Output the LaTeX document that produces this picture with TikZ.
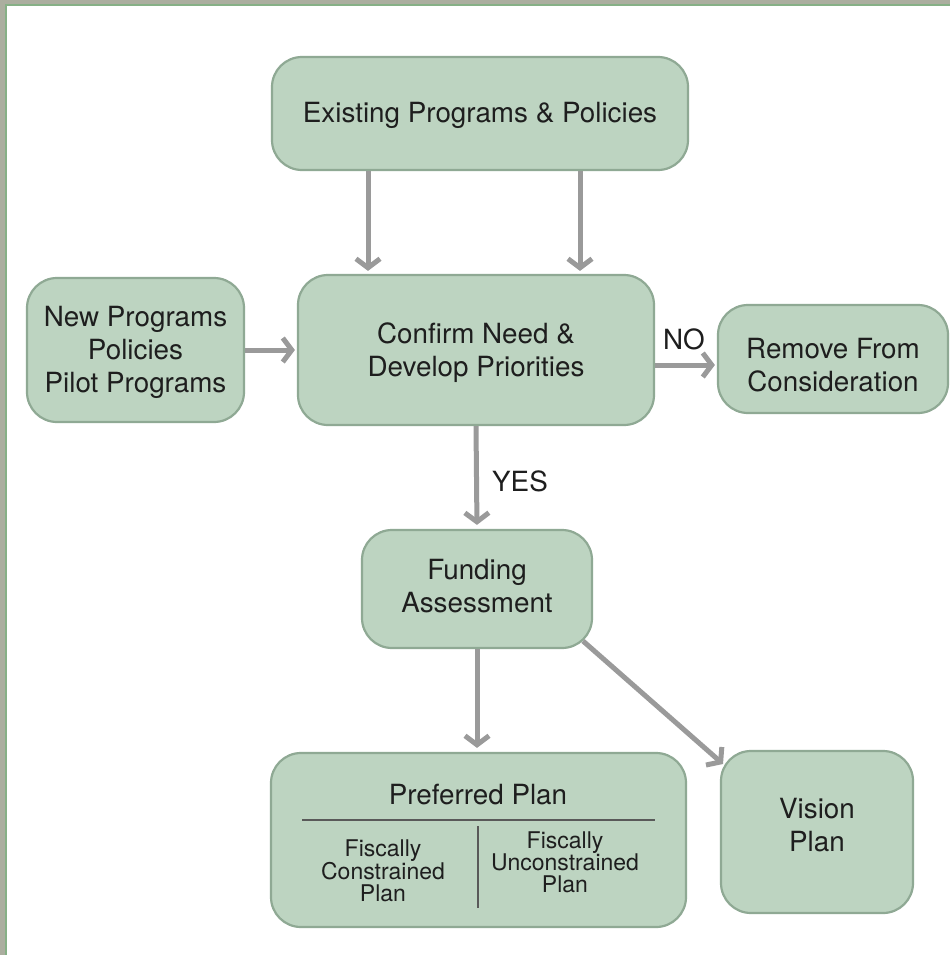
\documentclass[tikz,border=0pt]{standalone}
\usepackage{fontspec}
\setmainfont{TeX Gyre Heros}
\usetikzlibrary{arrows.meta}
\definecolor{boxfill}{HTML}{BDD4C1}
\definecolor{boxedge}{HTML}{8FA994}
\definecolor{arrgray}{HTML}{9A9A9A}
\definecolor{txt}{HTML}{1E1E1E}
\definecolor{framegray}{HTML}{ABAE9F}
\definecolor{framegreen}{HTML}{86B086}
\tikzset{
  box/.style={rectangle, rounded corners=30pt, fill=boxfill, draw=boxedge, line width=2.2pt,
    text=txt, align=center, inner sep=0pt, font=\fontsize{27.8}{33}\selectfont},
  lbl/.style={text=txt, inner sep=0pt, align=center, font=\fontsize{27.8}{33}\selectfont},
  small/.style={text=txt, inner sep=0pt, align=center, font=\fontsize{23}{22}\selectfont},
  arr/.style={draw=arrgray, line width=5pt, -{Straight Barb[length=9pt,width=24pt,line width=5pt]}},
  divline/.style={draw=black!65, line width=1.6pt}
}
\begin{document}
\begin{tikzpicture}[x=1pt,y=-1pt]
\useasboundingbox (0,0) rectangle (950,955);
\fill[white] (0,0) rectangle (950,955);
% frame
\fill[framegray] (0,0) rectangle (950,4);
\fill[framegray] (0,0) rectangle (5,955);
\draw[framegreen, line width=1.5pt] (6,955) -- (6,5) -- (950,5);

% boxes
\node[box, minimum width=416pt, minimum height=113pt] (ex) at (480,113.5) {};
\node[box, minimum width=356pt, minimum height=150pt] (cf) at (476,350) {};
\node[box, minimum width=217pt, minimum height=144pt] (np) at (135.5,350) {};
\node[box, minimum width=230pt, minimum height=108pt] (rm) at (833,359) {};
\node[box, minimum width=230pt, minimum height=118pt] (fa) at (477,589) {};
\node[box, minimum width=415pt, minimum height=174pt] (pp) at (478.5,840) {};
\node[box, minimum width=192pt, minimum height=162pt] (vp) at (817,832) {};

% box texts
\node[lbl] (ext) at (480,115) {Existing Programs \& Policies};
\node[lbl] (cft) at (476,353) {Confirm Need \&\\Develop Priorities};
\node[lbl] (npt) at (135.5,352) {New Programs\\Policies\\Pilot Programs};
\node[lbl] (rmt) at (833,365) {Remove From\\Consideration};
\node[lbl] (fat) at (477,586) {Funding\\Assessment};
\node[lbl] (vpt) at (817,825) {Vision\\Plan};

% preferred plan contents
\node[lbl] (ppt) at (478,795) {Preferred Plan};
\coordinate (hl1) at (302,820);
\coordinate (hl2) at (655,820);
\coordinate (vl1) at (478,826);
\coordinate (vl2) at (478,908);
\draw[divline] (hl1) -- (hl2);
\draw[divline] (vl1) -- (vl2);
\node[small] (fc) at (383,871) {Fiscally\\Constrained\\Plan};
\node[small] (fu) at (565,862) {Fiscally\\Unconstrained\\Plan};

% connectors
\coordinate (c1) at (368,0);
\coordinate (c2) at (580,0);
\coordinate (c3) at (0,365);
\draw[arr, shorten >=3pt] (ex.south -| c1) -- (cf.north -| c1);
\draw[arr, shorten >=3pt] (ex.south -| c2) -- (cf.north -| c2);
\draw[arr, shorten >=2pt] (np.east) -- (cf.west);
\draw[arr, shorten >=2pt] (cf.east |- c3) -- (rm.west |- c3);
\draw[arr, shorten >=4pt] (cf.south) -- (fa.north);
\draw[arr, shorten >=4pt] (fa.south) -- (pp.north -| fa.south);
\coordinate (fd1) at (583,641);
\coordinate (fd2) at (723,764);
\draw[arr] (fd1) -- (fd2);

% labels
\node[lbl] (no) at (684,339) {NO};
\node[lbl] (yes) at (520,481) {YES};
\end{tikzpicture}
\end{document}
